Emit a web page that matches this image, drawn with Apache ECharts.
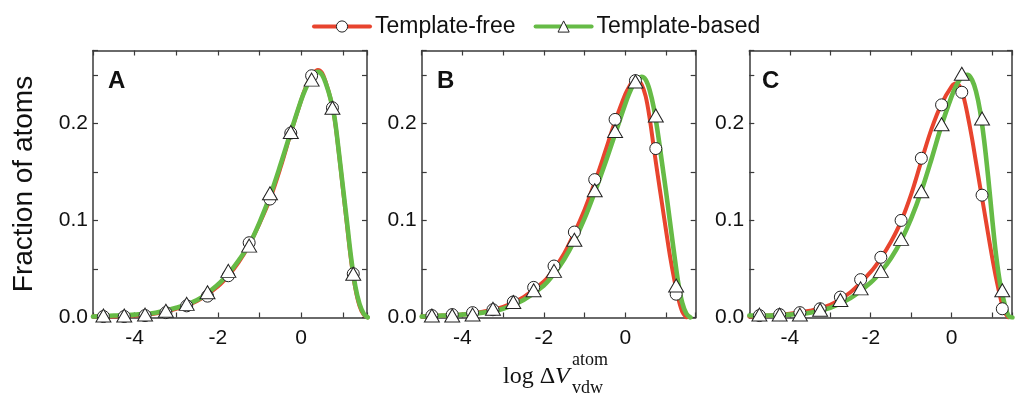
<!DOCTYPE html>
<html>
<head>
<meta charset="utf-8">
<script src="https://cdn.jsdelivr.net/npm/echarts@6/dist/echarts.min.js"></script>
<style>
html,body{margin:0;padding:0;background:#fff;}
#chart{width:1015px;height:401px;}
</style>
</head>
<body>
<div id="chart"></div>
<script>
// ---- data ----
const panelLabels = ['A', 'B', 'C'];
const seriesNames = ['Template-free', 'Template-based'];
const xTickLabels = ['-4', '-2', '0'];
const yTickLabels = ['0.0', '0.1', '0.2'];

// x positions of the markers (bin centres)
const markerX = [-4.75, -4.25, -3.75, -3.25, -2.75, -2.25, -1.75, -1.25, -0.75, -0.25, 0.25, 0.75, 1.25];

const freeA  = [0.001, 0.001, 0.002, 0.005, 0.012, 0.022, 0.043, 0.077, 0.122, 0.190, 0.249, 0.216, 0.045];
const basedA = [0.002, 0.002, 0.003, 0.007, 0.014, 0.026, 0.048, 0.074, 0.128, 0.191, 0.245, 0.216, 0.045];
const freeB  = [0.002, 0.003, 0.005, 0.008, 0.016, 0.031, 0.053, 0.088, 0.142, 0.204, 0.244, 0.174, 0.024];
const basedB = [0.002, 0.002, 0.003, 0.009, 0.016, 0.028, 0.048, 0.080, 0.131, 0.192, 0.243, 0.208, 0.033];
const freeC  = [0.002, 0.003, 0.005, 0.009, 0.021, 0.039, 0.062, 0.100, 0.164, 0.219, 0.232, 0.126, 0.009];
const basedC = [0.003, 0.003, 0.003, 0.008, 0.018, 0.030, 0.048, 0.081, 0.130, 0.199, 0.251, 0.205, 0.028];

// x positions at which the fitted curves are sampled
const curveX = [-5, -4.5, -4, -3.5, -3, -2.5, -2, -1.75, -1.5, -1.25, -1, -0.75, -0.5, -0.25,
                0, 0.1, 0.2, 0.3, 0.4, 0.5, 0.6, 0.7, 0.8, 0.9, 1.0, 1.1, 1.2, 1.3, 1.4, 1.5, 1.6];

const fitFreeA  = [0.001, 0.001, 0.002, 0.004, 0.009, 0.017, 0.032, 0.043, 0.057, 0.075, 0.097, 0.122, 0.154, 0.190,
                   0.224, 0.236, 0.245, 0.252, 0.255, 0.252, 0.241, 0.226, 0.205, 0.171, 0.133, 0.095, 0.058, 0.030, 0.012, 0.003, 0.0];
const fitBasedA = [0.001, 0.002, 0.003, 0.005, 0.010, 0.018, 0.034, 0.045, 0.059, 0.075, 0.098, 0.125, 0.157, 0.191,
                   0.224, 0.235, 0.244, 0.250, 0.253, 0.250, 0.240, 0.226, 0.206, 0.172, 0.135, 0.098, 0.061, 0.032, 0.014, 0.004, 0.0];
const fitFreeB  = [0.001, 0.002, 0.003, 0.006, 0.011, 0.021, 0.037, 0.050, 0.066, 0.087, 0.111, 0.139, 0.170, 0.202,
                   0.230, 0.238, 0.244, 0.245, 0.240, 0.228, 0.205, 0.175, 0.146, 0.118, 0.090, 0.063, 0.040, 0.020, 0.006, 0.0];
const fitBasedB = [0.001, 0.002, 0.003, 0.005, 0.009, 0.018, 0.033, 0.045, 0.060, 0.079, 0.102, 0.129, 0.158, 0.189,
                   0.220, 0.231, 0.240, 0.246, 0.248, 0.245, 0.234, 0.216, 0.190, 0.160, 0.130, 0.098, 0.066, 0.036, 0.015, 0.004, 0.0];
const fitFreeC  = [0.001, 0.002, 0.004, 0.007, 0.013, 0.026, 0.047, 0.061, 0.078, 0.099, 0.127, 0.161, 0.194, 0.220,
                   0.238, 0.241, 0.238, 0.226, 0.207, 0.185, 0.160, 0.135, 0.111, 0.086, 0.062, 0.040, 0.021, 0.006, 0.0];
const fitBasedC = [0.002, 0.002, 0.003, 0.005, 0.010, 0.020, 0.036, 0.047, 0.061, 0.079, 0.102, 0.130, 0.163, 0.198,
                   0.228, 0.238, 0.245, 0.249, 0.250, 0.245, 0.233, 0.213, 0.183, 0.145, 0.102, 0.063, 0.034, 0.015, 0.002, 0.0];

const xMax = [1.58, 1.73, 1.49];

// ---- build ----
const RED = '#e8442e', GREEN = '#66bb46', AX = '#3a3a3a', TXT = '#111';
const SANS = '"Liberation Sans", Arial, sans-serif';
const SERIF = '"Liberation Serif", "Times New Roman", serif';

const markers = [[freeA, basedA], [freeB, basedB], [freeC, basedC]];
const fits = [[fitFreeA, fitBasedA], [fitFreeB, fitBasedB], [fitFreeC, fitBasedC]];

const gridLeft = [93, 421.7, 749.3];
const gridWidth = [274, 274, 264];
const grids = gridLeft.map((l, i) => ({ left: l, top: 50.5, width: gridWidth[i], height: 267 }));

function xLabel(v) {
  const s = String(Math.round(v));
  return (Math.abs(v - Math.round(v)) < 1e-6 && xTickLabels.indexOf(s) >= 0) ? s : '';
}
function yLabel(v) {
  const s = v.toFixed(1);
  return (Math.abs(v * 10 - Math.round(v * 10)) < 1e-6 && yTickLabels.indexOf(s) >= 0) ? s : '';
}

const xAxes = [], yAxes = [];
for (let p = 0; p < 3; p++) {
  xAxes.push({
    type: 'value', gridIndex: p, min: -5, max: xMax[p], interval: 1, position: 'bottom',
    axisLine: { show: true, onZero: false, lineStyle: { color: AX, width: 1.5 } },
    axisTick: { show: true, inside: true, length: 5, lineStyle: { color: AX, width: 1.2 } },
    axisLabel: { formatter: xLabel, fontSize: 21, fontFamily: SANS, color: TXT, margin: 10 },
    splitLine: { show: false }
  });
  yAxes.push({
    type: 'value', gridIndex: p, min: 0, max: 0.275, interval: 0.05, position: 'left',
    axisLine: { show: true, onZero: false, lineStyle: { color: AX, width: 1.5 } },
    axisTick: { show: true, inside: true, length: 5, lineStyle: { color: AX, width: 1.2 } },
    axisLabel: { formatter: yLabel, fontSize: 21, fontFamily: SANS, color: TXT, margin: 5 },
    splitLine: { show: false },
    name: p === 0 ? 'Fraction of atoms' : '',
    nameLocation: 'middle', nameGap: 55,
    nameTextStyle: { fontSize: 28, fontFamily: SANS, color: TXT }
  });
}
for (let p = 0; p < 3; p++) {
  xAxes.push({
    type: 'value', gridIndex: p, min: -5, max: xMax[p], interval: 1, position: 'top',
    axisLine: { show: true, onZero: false, lineStyle: { color: AX, width: 1.5 } },
    axisTick: { show: true, inside: true, length: 5, lineStyle: { color: AX, width: 1.2 } },
    axisLabel: { show: false }, splitLine: { show: false }
  });
  yAxes.push({
    type: 'value', gridIndex: p, min: 0, max: 0.275, interval: 0.05, position: 'right',
    axisLine: { show: true, onZero: false, lineStyle: { color: AX, width: 1.5 } },
    axisTick: { show: true, inside: true, length: 5, lineStyle: { color: AX, width: 1.2 } },
    axisLabel: { show: false }, splitLine: { show: false }
  });
}

const series = [];
for (let p = 0; p < 3; p++) {
  const colors = [RED, GREEN];
  const widths = [4, 4.6];
  const syms = ['circle', 'triangle'];
  for (let s = 0; s < 2; s++) {
    const arr = fits[p][s];
    series.push({
      type: 'line', name: seriesNames[s], xAxisIndex: p, yAxisIndex: p,
      data: arr.map((v, i) => [curveX[i], v]),
      smooth: 0.35,
      showSymbol: false, symbol: syms[s], silent: true,
      lineStyle: { color: colors[s], width: widths[s], cap: 'round', join: 'round' },
      itemStyle: { color: colors[s] },
      z: 2 + s
    });
  }
  for (let s = 0; s < 2; s++) {
    series.push({
      type: 'scatter', name: 'pts' + p + s, xAxisIndex: p, yAxisIndex: p,
      data: markers[p][s].map((v, i) => [markerX[i], v]),
      symbol: syms[s], symbolSize: s === 0 ? 12 : [15, 13], silent: true,
      itemStyle: { color: '#fff', borderColor: '#222', borderWidth: 1, opacity: 1 },
      z: 4 + s
    });
  }
}

const graphics = [];
const letterX = [108, 437, 762];
for (let p = 0; p < 3; p++) {
  graphics.push({
    type: 'text', x: letterX[p], y: 69,
    style: { text: panelLabels[p], font: 'bold 24px ' + SANS, fill: TXT, align: 'left', verticalAlign: 'top' }
  });
}
graphics.push({
  type: 'text', x: 503, y: 377,
  style: {
    text: '{n|log Δ}{i|V}', align: 'left', verticalAlign: 'middle',
    rich: {
      n: { fontSize: 24, fontFamily: SERIF, fill: TXT },
      i: { fontSize: 24, fontFamily: SERIF, fontStyle: 'italic', fill: TXT }
    }
  }
});
graphics.push({
  type: 'text', x: 572, y: 360,
  style: { text: 'atom', font: '18px ' + SERIF, fill: TXT, align: 'left', verticalAlign: 'middle' }
});
graphics.push({
  type: 'text', x: 572, y: 388,
  style: { text: 'vdw', font: '18px ' + SERIF, fill: TXT, align: 'left', verticalAlign: 'middle' }
});

const chart = echarts.init(document.getElementById('chart'), null, { renderer: 'canvas' });
chart.setOption({
  animation: false,
  backgroundColor: '#fff',
  grid: grids,
  xAxis: xAxes,
  yAxis: yAxes,
  legend: {
    left: 307, top: 10, itemWidth: 56, itemHeight: 14, itemGap: 18,
    textStyle: { fontSize: 23, fontFamily: SANS, color: TXT },
    data: [
      { name: seriesNames[0], itemStyle: { color: '#fff', borderColor: '#222', borderWidth: 1 }, lineStyle: { color: RED, width: 4 } },
      { name: seriesNames[1], itemStyle: { color: '#fff', borderColor: '#222', borderWidth: 1 }, lineStyle: { color: GREEN, width: 4 } }
    ]
  },
  graphic: graphics,
  series: series
});
</script>
</body>
</html>
